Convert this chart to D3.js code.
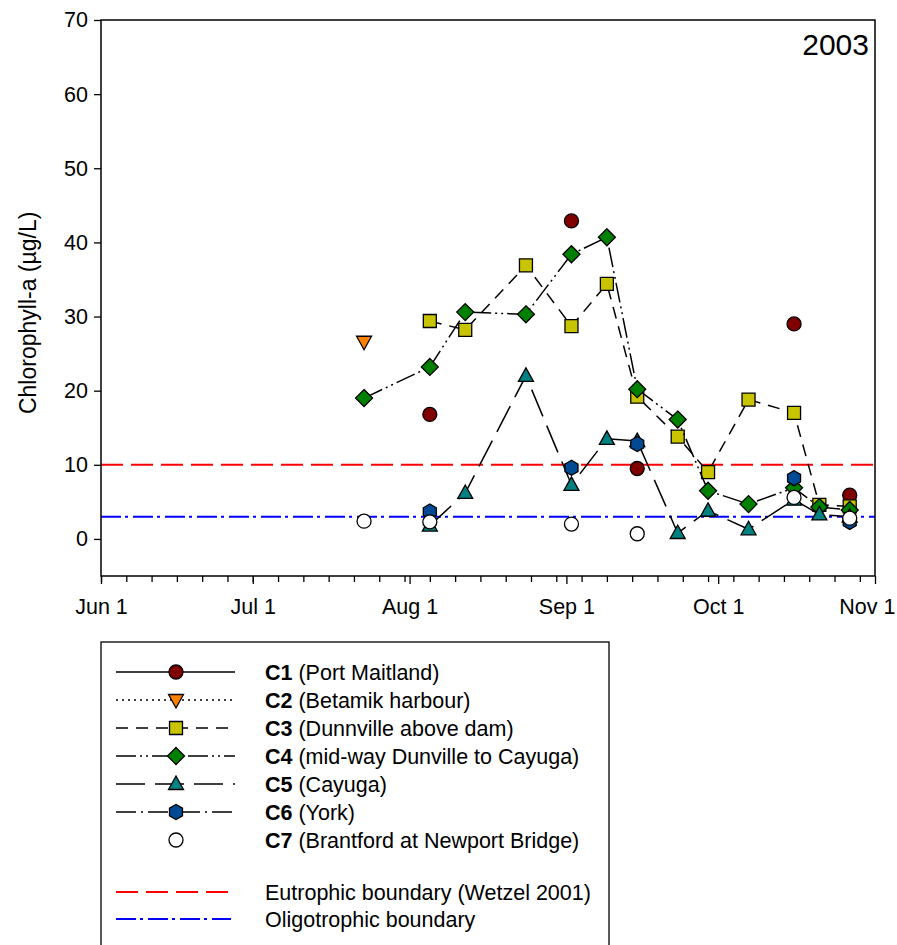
<!DOCTYPE html>
<html>
<head>
<meta charset="utf-8">
<script src="https://cdn.jsdelivr.net/npm/d3@7"></script>
<style>
  body { margin: 0; background: #fff; }
  svg { font-family: "Liberation Sans", Arial, sans-serif; }
</style>
</head>
<body>
<svg id="chart" width="897" height="945"></svg>
<script>
// sampling dates (2003)
const dates = ["2003-07-23", "2003-08-05", "2003-08-12", "2003-08-24", "2003-09-02", "2003-09-09",
  "2003-09-15", "2003-09-23", "2003-09-29", "2003-10-07", "2003-10-16", "2003-10-21", "2003-10-27"];

const c1 = [null, 16.8, null, null, 42.9, null, 9.5, null, null, null, 29.0, null, 5.9];
const c2 = [26.6, null, null, null, null, null, null, null, null, null, null, null, null];
const c3 = [null, 29.4, 28.2, 36.9, 28.7, 34.4, 19.2, 13.8, 9.0, 18.8, 17.0, 4.6, 4.4];
const c4 = [19.0, 23.2, 30.6, 30.3, 38.4, 40.7, 20.2, 16.1, 6.5, 4.7, 6.9, 4.3, 3.9];
const c5 = [null, 1.8, 6.2, 22.0, 7.3, 13.5, 13.2, 0.8, 3.8, 1.3, 5.3, 3.3, 3.0];
const c6 = [null, 3.7, null, null, 9.6, null, 12.8, null, null, null, 8.2, null, 2.3];
const c7 = [2.4, 2.3, null, null, 2.0, null, 0.7, null, null, null, 5.6, null, 2.8];

const seriesNames = ["C1", "C2", "C3", "C4", "C5", "C6", "C7"];
const seriesLabels = ["(Port Maitland)", "(Betamik harbour)", "(Dunnville above dam)",
  "(mid-way Dunville to Cayuga)", "(Cayuga)", "(York)", "(Brantford at Newport Bridge)"];

const eutrophic = 10;
const oligotrophic = 3;
const boundaryLabels = ["Eutrophic boundary (Wetzel 2001)", "Oligotrophic boundary"];

const yTicks = [0, 10, 20, 30, 40, 50, 60, 70];
const xTickLabels = ["Jun 1", "Jul 1", "Aug 1", "Sep 1", "Oct 1", "Nov 1"];

// styles
const styles = [
  { fill: "#800000", shape: "circle", dash: null, line: true },
  { fill: "#ff8000", shape: "triDown", dash: "2,4", line: true },
  { fill: "#c8c400", shape: "square", dash: "12,8", line: true },
  { fill: "#008000", shape: "diamond", dash: "20,4,2,4,2,4", line: true },
  { fill: "#008080", shape: "triUp", dash: "29,10", line: true },
  { fill: "#004a94", shape: "hexagon", dash: "20,5,2,5", line: true },
  { fill: "#ffffff", shape: "circle", dash: null, line: false }
];

const allSeries = [c1, c2, c3, c4, c5, c6, c7];

const FS = 21.5;
const svg = d3.select('#chart');
const margin = { left: 101, top: 20, right: 22, bottom: 369 };
const width = 897 - margin.left - margin.right;
const height = 945 - margin.top - margin.bottom;

const parse = d3.utcParse("%Y-%m-%d");
const x = d3.scaleUtc()
  .domain([parse("2003-06-01"), parse("2003-11-01")])
  .range([margin.left, margin.left + width]);
const y = d3.scaleLinear()
  .domain([-5, 70])
  .range([margin.top + height, margin.top]);

function shapePath(shape) {
  const s = [];
  if (shape === "circle") return d3.symbol(d3.symbolCircle, Math.PI * 49)();
  if (shape === "square") return "M-6.5,-6.5H6.5V6.5H-6.5Z";
  if (shape === "diamond") return "M0,-8.5L8.5,0L0,8.5L-8.5,0Z";
  if (shape === "triUp") return "M0,-8L7.5,5.5L-7.5,5.5Z";
  if (shape === "triDown") return "M0,8L7.5,-5.5L-7.5,-5.5Z";
  if (shape === "hexagon") {
    for (let i = 0; i < 6; i++) {
      const a = Math.PI / 2 + i * Math.PI / 3;
      s.push([Math.cos(a) * 7.5, -Math.sin(a) * 7.5]);
    }
    return "M" + s.map(p => p.join(",")).join("L") + "Z";
  }
}

// boundary lines
svg.append('line')
  .attr('x1', x.range()[0]).attr('x2', x.range()[1])
  .attr('y1', y(eutrophic)).attr('y2', y(eutrophic))
  .attr('stroke', '#ff0000').attr('stroke-width', 2)
  .attr('stroke-dasharray', '22,8');
svg.append('line')
  .attr('x1', x.range()[0]).attr('x2', x.range()[1])
  .attr('y1', y(oligotrophic)).attr('y2', y(oligotrophic))
  .attr('stroke', '#0000ff').attr('stroke-width', 2)
  .attr('stroke-dasharray', '20,4,3,5');

// series
const lineGen = d3.line()
  .defined(d => d.v !== null)
  .x(d => x(d.date))
  .y(d => y(d.v));

allSeries.forEach((vals, i) => {
  const st = styles[i];
  const pts = vals.map((v, j) => ({ date: parse(dates[j]), v }));
  const g = svg.append('g');
  if (st.line) {
    g.append('path')
      .attr('d', lineGen(pts))
      .attr('fill', 'none')
      .attr('stroke', '#000')
      .attr('stroke-width', 1.5)
      .attr('stroke-dasharray', st.dash);
  }
  g.selectAll('path.m')
    .data(pts.filter(d => d.v !== null))
    .join('path')
    .attr('class', 'm')
    .attr('d', shapePath(st.shape))
    .attr('transform', d => `translate(${x(d.date)},${y(d.v)})`)
    .attr('fill', st.fill)
    .attr('stroke', '#000')
    .attr('stroke-width', 1.3);
});

// frame
svg.append('rect')
  .attr('x', margin.left).attr('y', margin.top)
  .attr('width', width).attr('height', height)
  .attr('fill', 'none').attr('stroke', '#000').attr('stroke-width', 1.5);

// y axis
const yAxis = d3.axisLeft(y).tickValues(yTicks).tickSize(7).tickPadding(6);
svg.append('g')
  .attr('transform', `translate(${margin.left},0)`)
  .call(yAxis)
  .call(g => g.select('.domain').remove())
  .call(g => g.selectAll('text').attr('font-size', FS).attr('fill', '#000').attr('font-family', 'Liberation Sans, Arial, sans-serif'))
  .call(g => g.selectAll('line').attr('stroke', '#000').attr('stroke-width', 1.3));

// x axis: minor ticks every 5 days, major at month starts
const minor = d3.range(0, 155, 5).map(d => d3.utcDay.offset(parse("2003-06-01"), d)).filter(d => d <= x.domain()[1]);
const major = d3.utcMonth.range(parse("2003-06-01"), d3.utcDay.offset(parse("2003-11-01"), 1));
const xg = svg.append('g').attr('transform', `translate(0,${margin.top + height})`);
xg.call(d3.axisBottom(x).tickValues(minor).tickSize(6).tickFormat(''))
  .call(g => g.select('.domain').remove())
  .call(g => g.selectAll('line').attr('stroke', '#000').attr('stroke-width', 1.3));
const xg2 = svg.append('g').attr('transform', `translate(0,${margin.top + height})`);
xg2.call(d3.axisBottom(x).tickValues(major).tickSize(8).tickPadding(15)
    .tickFormat((d, i) => xTickLabels[i]))
  .call(g => g.select('.domain').remove())
  .call(g => g.selectAll('line').attr('stroke', '#000').attr('stroke-width', 1.3))
  .call(g => g.selectAll('text').attr('font-size', FS).attr('fill', '#000').attr('font-family', 'Liberation Sans, Arial, sans-serif'))
  .call(g => g.selectAll('text').filter((d, i) => i === xTickLabels.length - 1)
    .attr('text-anchor', 'end').attr('x', 895 - x(major[major.length - 1])));

// y label
svg.append('text')
  .attr('transform', `translate(36,${y(30.5)}) rotate(-90)`)
  .attr('text-anchor', 'middle')
  .attr('font-size', 23)
  .text('Chlorophyll-a (µg/L)');

// year
svg.append('text')
  .attr('x', margin.left + width - 6)
  .attr('y', 55)
  .attr('text-anchor', 'end')
  .attr('font-size', 30)
  .text('2003');

// legend
const lg = svg.append('g');
lg.append('rect')
  .attr('x', 101).attr('y', 642).attr('width', 508).attr('height', 320)
  .attr('fill', 'none').attr('stroke', '#000').attr('stroke-width', 1.3);

seriesNames.forEach((name, i) => {
  const st = styles[i];
  const cy = 672 + i * 28;
  if (st.line) {
    lg.append('line')
      .attr('x1', 116).attr('x2', 235).attr('y1', cy).attr('y2', cy)
      .attr('stroke', '#000').attr('stroke-width', 1.5)
      .attr('stroke-dasharray', st.dash);
  }
  lg.append('path')
    .attr('d', shapePath(st.shape))
    .attr('transform', `translate(176,${cy})`)
    .attr('fill', st.fill).attr('stroke', '#000').attr('stroke-width', 1.3);
  const t = lg.append('text').attr('x', 265).attr('y', cy + 7.5).attr('font-size', FS);
  t.append('tspan').attr('font-weight', 'bold').text(name);
  t.append('tspan').text(' ' + seriesLabels[i]);
});

const bColors = ['#ff0000', '#0000ff'];
const bDash = ['22,8', '20,4,3,5'];
boundaryLabels.forEach((lab, i) => {
  const cy = 892 + i * 27;
  lg.append('line')
    .attr('x1', 116).attr('x2', 231).attr('y1', cy).attr('y2', cy)
    .attr('stroke', bColors[i]).attr('stroke-width', 2)
    .attr('stroke-dasharray', bDash[i]);
  lg.append('text').attr('x', 265).attr('y', cy + 7.5).attr('font-size', FS).text(lab);
});
</script>
</body>
</html>
